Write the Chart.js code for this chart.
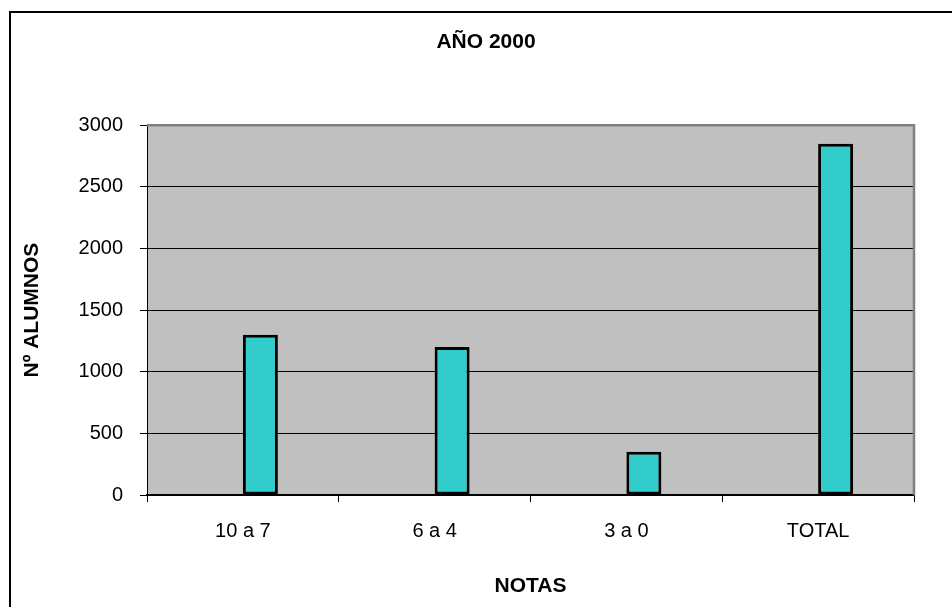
<!DOCTYPE html>
<html>
<head>
<meta charset="utf-8">
<script src="https://cdn.jsdelivr.net/npm/chart.js@4"></script>
<style>
  html, body { margin: 0; padding: 0; background: #fff; overflow: hidden; }
  #wrap { width: 952px; height: 607px; }
</style>
</head>
<body>
<div id="wrap"><canvas id="chart" width="952" height="607"></canvas></div>
<script>
// ------------------------------------------------------------
// DATOS
// ------------------------------------------------------------
const categorias = ["10 a 7", "6 a 4", "3 a 0", "TOTAL"];
const serieVacia = [null, null, null, null];       // primera serie sin valores
const alumnos    = [1300, 1200, 350, 2850];
const yTicks     = [0, 500, 1000, 1500, 2000, 2500, 3000];

const FONT = "'Liberation Sans', Arial, sans-serif";

// ------------------------------------------------------------
// PLUGIN: marco exterior + fondo gris del área de trazado
// ------------------------------------------------------------
const marco = {
  id: "marco",
  beforeDraw(chart) {
    const { ctx, chartArea: a } = chart;
    ctx.save();
    ctx.fillStyle = "#fff";
    ctx.fillRect(0, 0, chart.width, chart.height);
    ctx.strokeStyle = "#000";
    ctx.lineWidth = 2;
    ctx.strokeRect(10, 12, chart.width + 20, chart.height + 20);
    ctx.fillStyle = "#c0c0c0";
    ctx.fillRect(a.left, a.top, a.right - a.left, a.bottom - a.top);
    ctx.restore();
  },
  afterDatasetsDraw(chart) {
    const { ctx, chartArea: a } = chart;
    ctx.save();
    ctx.strokeStyle = "#808080";
    ctx.lineWidth = 2.5;
    ctx.beginPath();
    ctx.moveTo(a.left, a.top);
    ctx.lineTo(a.right, a.top);
    ctx.lineTo(a.right, a.bottom);
    ctx.stroke();
    ctx.restore();
  }
};

new Chart(document.getElementById("chart"), {
  type: "bar",
  data: {
    labels: categorias,
    datasets: [
      { label: "Serie 1", data: serieVacia, yAxisID: "y" },
      {
        label: "Nº alumnos",
        data: alumnos,
        yAxisID: "y",
        backgroundColor: "#31cdcd",
        borderColor: "#000",
        borderWidth: 3,
        borderSkipped: false
      }
    ]
  },
  options: {
    responsive: false,
    animation: false,
    devicePixelRatio: 1,
    categoryPercentage: 0.365,
    barPercentage: 1,
    layout: { padding: { left: 20, right: 0, top: 0, bottom: 0 } },
    scales: {
      x: {
        offset: true,
        grid: {
          offset: true,
          drawOnChartArea: false,
          color: "#000",
          tickLength: 7
        },
        border: { color: "#000", width: 1.5 },
        ticks: { color: "#000", padding: 17, font: { family: FONT, size: 20 } },
        title: {
          display: true,
          text: "NOTAS",
          color: "#000",
          font: { family: FONT, size: 21, weight: "bold" },
          padding: { top: 0, bottom: 8 }
        },
        afterFit(s) { s.height = 112; }
      },
      y: {
        position: "left",
        min: 0,
        max: 3000,
        afterBuildTicks(s) { s.ticks = yTicks.map(v => ({ value: v })); },
        grid: { color: "#000", tickLength: 7 },
        border: { color: "#000", width: 1 },
        ticks: {
          color: "#000",
          padding: 17,
          font: { family: FONT, size: 20 },
          callback: v => String(v)
        },
        title: {
          display: true,
          text: "Nº ALUMNOS",
          color: "#000",
          font: { family: FONT, size: 21, weight: "bold" },
          padding: { top: 0, bottom: 0 }
        },
        afterFit(s) { s.width = 127; }
      },
      // eje auxiliar invisible: deja el margen derecho
      y2: {
        position: "right",
        display: true,
        grid: { display: false },
        border: { display: false },
        ticks: { display: false },
        afterFit(s) { s.width = 38; }
      }
    },
    plugins: {
      legend: { display: false },
      tooltip: { enabled: false },
      title: {
        display: true,
        text: "AÑO 2000",
        color: "#000",
        font: { family: FONT, size: 21, weight: "bold" },
        padding: { top: 30, bottom: 70 }
      }
    }
  },
  plugins: [marco]
});
</script>
</body>
</html>
